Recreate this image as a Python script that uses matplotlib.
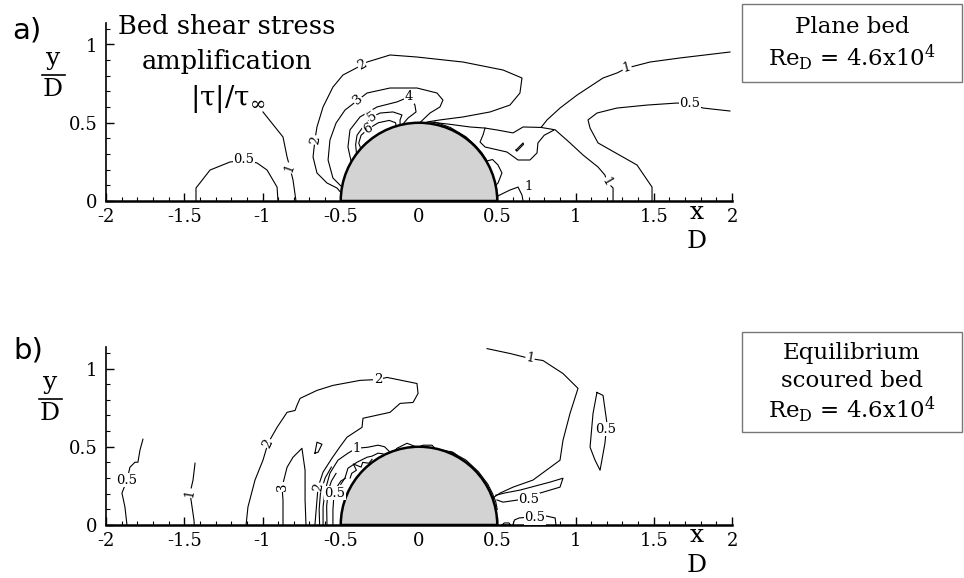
import matplotlib
matplotlib.use("Agg")
import matplotlib.pyplot as plt
from matplotlib.patches import Wedge, Rectangle
from matplotlib.lines import Line2D
from matplotlib.ticker import MultipleLocator

plt.rcParams['font.family'] = 'DejaVu Serif'
plt.rcParams['mathtext.fontset'] = 'dejavuserif'

# x/D and y/D of the contour lines

# ---- a) plane bed
a_c05_left_x = [-1.425, -1.425, -1.335, -1.208, -1.11, -1.035, -0.971, -0.907, -0.901]
a_c05_left_y = [0.0, 0.083, 0.198, 0.249, 0.262, 0.243, 0.198, 0.089, 0.0]
a_c1_left_x = [-0.997, -0.869, -0.843, -0.824, -0.805, -0.786]
a_c1_left_y = [0.569, 0.409, 0.281, 0.211, 0.134, 0.0]
a_c2_x = [-0.497, -0.524, -0.588, -0.652, -0.677, -0.665, -0.652, -0.613, -0.550, -0.486, -0.364,
          -0.332, -0.185, -0.013, 0.281, 0.537, 0.658, 0.645, 0.581, 0.454, 0.281, 0.134, 0.051]
a_c2_y = [0.051, 0.083, 0.115, 0.179, 0.281, 0.390, 0.473, 0.601, 0.728, 0.805, 0.869,
          0.888, 0.933, 0.920, 0.888, 0.837, 0.786, 0.690, 0.613, 0.569, 0.537, 0.518, 0.505]
a_c3_x = [-0.492, -0.550, -0.581, -0.569, -0.530, -0.473, -0.390, -0.332, -0.185, -0.013, 0.115,
          0.153, 0.134, 0.070, 0.010]
a_c3_y = [0.089, 0.147, 0.262, 0.390, 0.498, 0.581, 0.645, 0.690, 0.722, 0.722, 0.690,
          0.645, 0.601, 0.562, 0.505]
a_c4_x = [-0.433, -0.454, -0.441, -0.377, -0.268, -0.141, -0.064, -0.026, -0.019, -0.070, -0.105]
a_c4_y = [0.250, 0.345, 0.454, 0.537, 0.601, 0.633, 0.665, 0.613, 0.569, 0.530, 0.489]
a_c5_x = [-0.399, -0.405, -0.396, -0.358, -0.300, -0.249, -0.166, -0.109, -0.121, -0.121]
a_c5_y = [0.301, 0.360, 0.420, 0.473, 0.537, 0.562, 0.569, 0.550, 0.518, 0.485]
a_c6_x = [-0.372, -0.385, -0.370, -0.326, -0.260, -0.190, -0.150, -0.146]
a_c6_y = [0.335, 0.370, 0.420, 0.460, 0.500, 0.515, 0.500, 0.478]
a_c1_right_x = [1.987, 1.668, 1.476, 1.329, 1.265, 1.176, 1.010, 0.901, 0.818, 0.780, 0.870,
                0.965, 1.048, 1.144, 1.188, 1.201, 1.240, 1.240]
a_c1_right_y = [0.952, 0.914, 0.888, 0.850, 0.818, 0.786, 0.677, 0.594, 0.518, 0.470, 0.455,
                0.371, 0.294, 0.217, 0.166, 0.121, 0.083, 0.0]
a_c05_right_x = [1.489, 1.489, 1.393, 1.144, 1.093, 1.080, 1.137, 1.265, 1.457, 1.649, 1.732, 1.815, 1.987]
a_c05_right_y = [0.0, 0.089, 0.230, 0.371, 0.466, 0.518, 0.562, 0.594, 0.613, 0.626, 0.620, 0.594, 0.575]
a_lee_up_x = [0.780, 0.665, 0.601, 0.498, 0.422, 0.326, 0.198, 0.070]
a_lee_up_y = [0.470, 0.473, 0.435, 0.454, 0.466, 0.473, 0.490, 0.505]
a_lee_low_x = [0.422, 0.409, 0.390, 0.422, 0.562, 0.633, 0.709, 0.754, 0.760, 0.800, 0.860]
a_lee_low_y = [0.466, 0.422, 0.377, 0.345, 0.313, 0.262, 0.262, 0.307, 0.371, 0.420, 0.452]
a_loop_x = [0.430, 0.470, 0.505, 0.530, 0.505, 0.490]
a_loop_y = [0.255, 0.265, 0.230, 0.179, 0.115, 0.100]
a_c1_small_x = [0.500, 0.540, 0.581, 0.633, 0.658, 0.665]
a_c1_small_y = [0.030, 0.050, 0.070, 0.089, 0.038, 0.0]
a_dash_x = [0.620, 0.665, 0.668, 0.625, 0.620]
a_dash_y = [0.326, 0.371, 0.362, 0.318, 0.326]
a_hug_x = [0.10, 0.20, 0.30, 0.36, 0.40, 0.43]
a_hug_y = [0.505, 0.47, 0.41, 0.355, 0.31, 0.265]

a_lines = [(a_c05_left_x, a_c05_left_y), (a_c1_left_x, a_c1_left_y), (a_c2_x, a_c2_y),
           (a_c3_x, a_c3_y), (a_c4_x, a_c4_y), (a_c5_x, a_c5_y), (a_c6_x, a_c6_y),
           (a_c1_right_x, a_c1_right_y), (a_c05_right_x, a_c05_right_y),
           (a_lee_up_x, a_lee_up_y), (a_lee_low_x, a_lee_low_y), (a_loop_x, a_loop_y),
           (a_c1_small_x, a_c1_small_y), (a_dash_x, a_dash_y), (a_hug_x, a_hug_y)]
a_label_text = ['0.5', '1', '2', '2', '3', '4', '5', '6', '1', '1', '1', '0.5']
a_label_x = [-1.12, -0.824, -0.665, -0.364, -0.390, -0.064, -0.300, -0.326, 0.700, 1.329, 1.201, 1.732]
a_label_y = [0.262, 0.211, 0.390, 0.869, 0.645, 0.665, 0.537, 0.460, 0.095, 0.850, 0.121, 0.620]
a_label_rot = [0, 70, 80, 30, 40, 0, 35, 30, 0, 15, -60, 0]

# ---- b) equilibrium scoured bed
b_c05_left_x = [-1.866, -1.879, -1.898, -1.866, -1.847, -1.815, -1.796, -1.783, -1.764]
b_c05_left_y = [0.0, 0.115, 0.204, 0.287, 0.369, 0.401, 0.401, 0.478, 0.548]
b_c1_left_x = [-1.431, -1.444, -1.463, -1.450, -1.438, -1.436]
b_c1_left_y = [0.395, 0.287, 0.204, 0.115, 0.032, 0.0]
b_c2_x = [-1.105, -1.093, -1.048, -0.997, -0.965, -0.907, -0.843, -0.792, -0.780, -0.760, -0.652,
          -0.550, -0.377, -0.262, -0.204, -0.013, -0.006, -0.038, -0.121, -0.185, -0.358, -0.364,
          -0.422, -0.460, -0.505, -0.556, -0.613, -0.645, -0.652, -0.665]
b_c2_y = [0.0, 0.115, 0.287, 0.414, 0.522, 0.624, 0.720, 0.732, 0.764, 0.809, 0.860,
          0.892, 0.924, 0.930, 0.943, 0.904, 0.841, 0.783, 0.777, 0.720, 0.682, 0.624,
          0.586, 0.561, 0.500, 0.427, 0.338, 0.242, 0.159, 0.0]
b_c3_x = [-0.869, -0.869, -0.875, -0.843, -0.805, -0.748, -0.728, -0.728, -0.722]
b_c3_y = [0.0, 0.159, 0.242, 0.369, 0.433, 0.490, 0.350, 0.159, 0.0]
b_islet_x = [-0.665, -0.652, -0.620, -0.645, -0.665]
b_islet_y = [0.459, 0.529, 0.516, 0.465, 0.459]
b_c1_in_x = [-0.613, -0.613, -0.600, -0.569, -0.518, -0.454, -0.400, -0.326, -0.262, -0.220, -0.190]
b_c1_in_y = [0.0, 0.115, 0.220, 0.331, 0.414, 0.459, 0.490, 0.497, 0.510, 0.500, 0.470]
b_ex1_x = [-0.635, -0.638, -0.630, -0.600, -0.560]
b_ex1_y = [0.0, 0.100, 0.200, 0.300, 0.370]
b_ex2_x = [-0.588, -0.590, -0.580, -0.560, -0.530]
b_ex2_y = [0.0, 0.120, 0.220, 0.280, 0.330]
b_c05_in_x = [-0.550, -0.550, -0.545, -0.537, -0.520, -0.500, -0.470]
b_c05_in_y = [0.0, 0.096, 0.170, 0.204, 0.250, 0.280, 0.300]
b_zig1_x = [-0.500, -0.473, -0.454, -0.396, -0.332, -0.300, -0.262, -0.230]
b_zig1_y = [0.260, 0.300, 0.363, 0.401, 0.433, 0.440, 0.459, 0.455]
b_zig2_x = [-0.440, -0.430, -0.400, -0.420, -0.370, -0.360, -0.320, -0.300]
b_zig2_y = [0.300, 0.330, 0.350, 0.390, 0.370, 0.400, 0.395, 0.420]
b_bump1_x = [-0.160, -0.141, -0.077, -0.045, -0.013]
b_bump1_y = [0.470, 0.490, 0.522, 0.510, 0.497]
b_bump2_x = [-0.006, 0.026, 0.083, 0.102, 0.100]
b_bump2_y = [0.497, 0.510, 0.510, 0.490, 0.480]
b_bump3_x = [0.140, 0.153, 0.217, 0.243, 0.240]
b_bump3_y = [0.475, 0.478, 0.465, 0.446, 0.430]
b_hug_x = [0.20, 0.30, 0.38, 0.44, 0.47, 0.49, 0.50]
b_hug_y = [0.47, 0.415, 0.34, 0.26, 0.20, 0.15, 0.10]
b_c1_right_x = [0.435, 0.581, 0.709, 0.792, 0.920, 1.016, 0.965, 0.920, 0.901, 0.728, 0.601, 0.518, 0.475]
b_c1_right_y = [1.127, 1.096, 1.064, 1.051, 0.968, 0.873, 0.713, 0.541, 0.414, 0.287, 0.242, 0.204, 0.175]
b_c05_loop_x = [1.137, 1.176, 1.201, 1.188, 1.157, 1.125, 1.093, 1.112, 1.137]
b_c05_loop_y = [0.847, 0.828, 0.650, 0.522, 0.350, 0.414, 0.497, 0.713, 0.847]
b_sliver_x = [0.490, 0.550, 0.645, 0.837, 0.920, 0.901, 0.773, 0.700, 0.626, 0.537, 0.498]
b_sliver_y = [0.190, 0.205, 0.223, 0.274, 0.299, 0.242, 0.204, 0.175, 0.159, 0.146, 0.160]
b_c05_bed_x = [0.600, 0.610, 0.640, 0.700, 0.741, 0.800, 0.870, 0.875]
b_c05_bed_y = [0.0, 0.032, 0.045, 0.050, 0.045, 0.060, 0.045, 0.0]
b_blob_x = [0.530, 0.545, 0.575, 0.585, 0.530]
b_blob_y = [0.0, 0.013, 0.013, 0.0, 0.0]

b_lines = [(b_c05_left_x, b_c05_left_y), (b_c1_left_x, b_c1_left_y), (b_c2_x, b_c2_y),
           (b_c3_x, b_c3_y), (b_islet_x, b_islet_y), (b_c1_in_x, b_c1_in_y),
           (b_ex1_x, b_ex1_y), (b_ex2_x, b_ex2_y), (b_c05_in_x, b_c05_in_y),
           (b_zig1_x, b_zig1_y), (b_zig2_x, b_zig2_y), (b_bump1_x, b_bump1_y),
           (b_bump2_x, b_bump2_y), (b_bump3_x, b_bump3_y), (b_hug_x, b_hug_y),
           (b_c1_right_x, b_c1_right_y), (b_c05_loop_x, b_c05_loop_y),
           (b_sliver_x, b_sliver_y), (b_c05_bed_x, b_c05_bed_y), (b_blob_x, b_blob_y)]
b_label_text = ['0.5', '1', '2', '2', '3', '2', '0.5', '1', '1', '0.5', '0.5', '0.5']
b_label_x = [-1.866, -1.463, -0.965, -0.262, -0.875, -0.645, -0.537, -0.400, 0.709, 1.195, 0.703, 0.741]
b_label_y = [0.287, 0.204, 0.522, 0.930, 0.242, 0.242, 0.204, 0.490, 1.064, 0.611, 0.160, 0.045]
b_label_rot = [0, 80, 65, 0, 90, 80, 0, 0, -10, 0, 0, 0]

xticks = [-2, -1.5, -1, -0.5, 0, 0.5, 1, 1.5, 2]
xtick_labels = ['-2', '-1.5', '-1', '-0.5', '0', '0.5', '1', '1.5', '2']
yticks = [0, 0.5, 1]
ytick_labels = ['0', '0.5', '1']

W, H = 964, 578
fig = plt.figure(figsize=(W / 100, H / 100), dpi=100)


def px(x, y):
    return x / W, 1 - y / H


def panel(y_axis_px, lines, ltext, lx, ly, lrot):
    ax = fig.add_axes([106 / W, 1 - y_axis_px / H, 626 / W, 178 / H])
    ax.set_xlim(-2, 2)
    ax.set_ylim(0, 178 / 156.5)
    for s in ['top', 'right']:
        ax.spines[s].set_visible(False)
    ax.spines['left'].set_linewidth(1.2)
    ax.spines['bottom'].set_linewidth(1.8)
    ax.set_xticks(xticks)
    ax.set_xticklabels(xtick_labels)
    ax.set_yticks(yticks)
    ax.set_yticklabels(ytick_labels)
    ax.xaxis.set_minor_locator(MultipleLocator(0.1))
    ax.yaxis.set_minor_locator(MultipleLocator(0.1))
    ax.tick_params(which='major', direction='in', length=6, width=1, labelsize=13)
    ax.tick_params(which='minor', direction='in', length=3, width=0.8)
    ax.tick_params(axis='x', pad=5)
    ax.tick_params(axis='y', pad=6)
    ax.patch.set_alpha(0)
    for xs, ys in lines:
        ax.plot(xs, ys, color='black', lw=0.8, zorder=2)
    for t, x, y, r in zip(ltext, lx, ly, lrot):
        ax.text(x, y, t, fontsize=9.5, rotation=r, ha='center', va='center', zorder=4,
                bbox=dict(fc='white', ec='none', pad=0.4))
    ax.add_patch(Wedge((0, 0), 0.5, 0, 180, fc='#d3d3d3', ec='black', lw=1.8, zorder=3))
    return ax


ax_a = panel(201, a_lines, a_label_text, a_label_x, a_label_y, a_label_rot)
ax_b = panel(525, b_lines, b_label_text, b_label_x, b_label_y, b_label_rot)

# panel letters
fig.text(*px(27, 30), 'a)', fontsize=21, family='DejaVu Sans', ha='center', va='center')
fig.text(*px(28, 350), 'b)', fontsize=21, family='DejaVu Sans', ha='center', va='center')

# y/D and x/D labels
for yy, dy in [(0, 0), (324, -3)]:
    fig.text(*px(53 + dy, 59 + yy), 'y', fontsize=18, ha='center', va='center')
    fig.add_artist(Line2D([(42 + dy) / W, (65 + dy) / W], [1 - (75 + yy) / H] * 2, color='black', lw=1.2))
    fig.text(*px(53 + dy, 89 + yy), 'D', fontsize=18, ha='center', va='center')
    fig.text(*px(697, 212 + yy), 'x', fontsize=18, ha='center', va='center')
    fig.text(*px(697, 241 + yy), 'D', fontsize=18, ha='center', va='center')

# title of panel a
fig.text(*px(227, 27), 'Bed shear stress', fontsize=18.5, ha='center', va='center')
fig.text(*px(227, 62), 'amplification', fontsize=18.5, ha='center', va='center')
fig.text(*px(228, 99), r'|τ|/τ$_{\infty}$', fontsize=20, ha='center', va='center')

# boxes on the right
re_txt = r'Re$_{\mathrm{D}}$ = 4.6x10$^{4}$'
fig.add_artist(Rectangle(px(742, 82), 220 / W, 78 / H, transform=fig.transFigure,
                         fc='white', ec='#777777', lw=1))
fig.text(*px(852, 27), 'Plane bed', fontsize=16.5, ha='center', va='center')
fig.text(*px(852, 58), re_txt, fontsize=16.5, ha='center', va='center')
fig.add_artist(Rectangle(px(742, 432), 220 / W, 100 / H, transform=fig.transFigure,
                         fc='white', ec='#777777', lw=1))
fig.text(*px(852, 353), 'Equilibrium', fontsize=16.5, ha='center', va='center')
fig.text(*px(852, 381), 'scoured bed', fontsize=16.5, ha='center', va='center')
fig.text(*px(852, 410), re_txt, fontsize=16.5, ha='center', va='center')

fig.savefig('out.png', dpi=100)
